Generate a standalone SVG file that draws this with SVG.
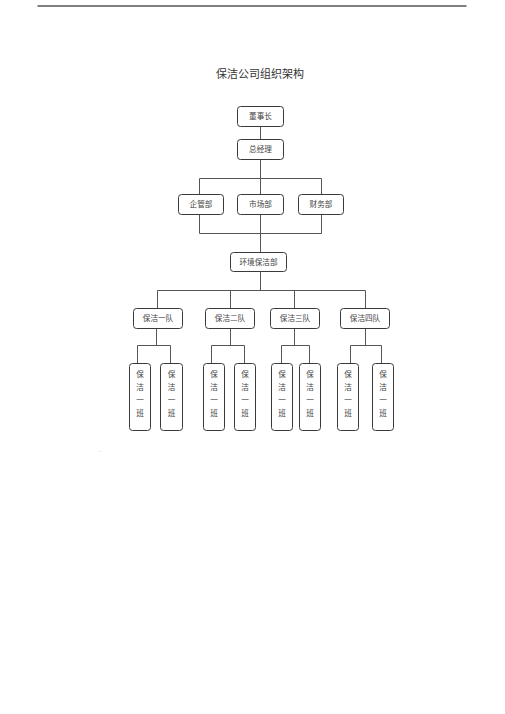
<svg xmlns="http://www.w3.org/2000/svg" width="505" height="714" viewBox="0 0 505 714">
<style>
.box{fill:#fff;stroke:#3a3a3a;stroke-width:1}
.t{font-family:"Liberation Serif","Noto Sans CJK SC",serif;font-size:7.6px;fill:#444;text-anchor:middle}
.title{font-family:"Liberation Serif","Noto Sans CJK SC",serif;font-size:11px;fill:#333;text-anchor:middle}
.c{fill:none;stroke:#555;stroke-width:1}
</style>
<rect width="505" height="714" fill="#fff"/>
<line x1="37.5" y1="6" x2="466.5" y2="6" stroke="#000" stroke-width="1.2"/>
<text class="title" x="260" y="78">保洁公司组织架构</text>
<g id="connectors">
<path class="c" d="M260.5 126V139M260.5 159V252M199.5 194V178.5H321.5V194M199.5 215V233.5H321.5V215M260.5 272V291M157.5 308V290.5H365.5V308M230.5 291V308M294.5 291V308"/>
<path class="c" d="M156.5 328V345.5M137.5 363V345.5H170.5V363"/>
<path class="c" d="M230.5 328V345.5M211.5 363V345.5H244.5V363"/>
<path class="c" d="M294.5 328V345.5M281.5 363V345.5H309.5V363"/>
<path class="c" d="M365.5 328V345.5M350.5 363V345.5H381.5V363"/>
</g>
<g id="n-chairman"><rect class="box" x="237.5" y="106.5" width="46" height="20" rx="3"/><text class="t" x="260.5" y="119.3">董事长</text></g>
<g id="n-gm"><rect class="box" x="237.5" y="139.5" width="46" height="20" rx="3"/><text class="t" x="260.5" y="152.3">总经理</text></g>
<g id="n-qg"><rect class="box" x="178.5" y="194.5" width="45" height="20" rx="3"/><text class="t" x="201" y="207.3">企管部</text></g>
<g id="n-sc"><rect class="box" x="237.5" y="194.5" width="46" height="20" rx="3"/><text class="t" x="260.5" y="207.3">市场部</text></g>
<g id="n-cw"><rect class="box" x="298.5" y="194.5" width="45" height="20" rx="3"/><text class="t" x="321" y="207.3">财务部</text></g>
<g id="n-hj"><rect class="box" x="230.5" y="252.5" width="56" height="19" rx="3"/><text class="t" x="258.5" y="264.8">环境保洁部</text></g>
<g id="n-d1"><rect class="box" x="133.5" y="308.5" width="49" height="20" rx="3"/><text class="t" x="158" y="321.3">保洁一队</text></g>
<g id="n-d2"><rect class="box" x="205.5" y="308.5" width="49" height="20" rx="3"/><text class="t" x="230" y="321.3">保洁二队</text></g>
<g id="n-d3"><rect class="box" x="270.5" y="308.5" width="49" height="20" rx="3"/><text class="t" x="295" y="321.3">保洁三队</text></g>
<g id="n-d4"><rect class="box" x="340.5" y="308.5" width="49" height="20" rx="3"/><text class="t" x="365" y="321.3">保洁四队</text></g>
<g id="n-b1"><rect class="box" x="129.5" y="363.5" width="21" height="67" rx="3"/><text class="t" x="140" y="377">保</text><text class="t" x="140" y="390">洁</text><text class="t" x="140" y="403">一</text><text class="t" x="140" y="416">班</text></g>
<g id="n-b2"><rect class="box" x="160.5" y="363.5" width="22" height="67" rx="3"/><text class="t" x="171.5" y="377">保</text><text class="t" x="171.5" y="390">洁</text><text class="t" x="171.5" y="403">一</text><text class="t" x="171.5" y="416">班</text></g>
<g id="n-b3"><rect class="box" x="203.5" y="363.5" width="21" height="67" rx="3"/><text class="t" x="214" y="377">保</text><text class="t" x="214" y="390">洁</text><text class="t" x="214" y="403">一</text><text class="t" x="214" y="416">班</text></g>
<g id="n-b4"><rect class="box" x="234.5" y="363.5" width="21" height="67" rx="3"/><text class="t" x="245" y="377">保</text><text class="t" x="245" y="390">洁</text><text class="t" x="245" y="403">一</text><text class="t" x="245" y="416">班</text></g>
<g id="n-b5"><rect class="box" x="271.5" y="363.5" width="21" height="67" rx="3"/><text class="t" x="282" y="377">保</text><text class="t" x="282" y="390">洁</text><text class="t" x="282" y="403">一</text><text class="t" x="282" y="416">班</text></g>
<g id="n-b6"><rect class="box" x="299.5" y="363.5" width="21" height="67" rx="3"/><text class="t" x="310" y="377">保</text><text class="t" x="310" y="390">洁</text><text class="t" x="310" y="403">一</text><text class="t" x="310" y="416">班</text></g>
<g id="n-b7"><rect class="box" x="337.5" y="363.5" width="21" height="67" rx="3"/><text class="t" x="348" y="377">保</text><text class="t" x="348" y="390">洁</text><text class="t" x="348" y="403">一</text><text class="t" x="348" y="416">班</text></g>
<g id="n-b8"><rect class="box" x="372.5" y="363.5" width="21" height="67" rx="3"/><text class="t" x="383" y="377">保</text><text class="t" x="383" y="390">洁</text><text class="t" x="383" y="403">一</text><text class="t" x="383" y="416">班</text></g>
<text x="99" y="452" style="font-family:'Liberation Serif',serif;font-size:5px;fill:#444">.</text>
</svg>
